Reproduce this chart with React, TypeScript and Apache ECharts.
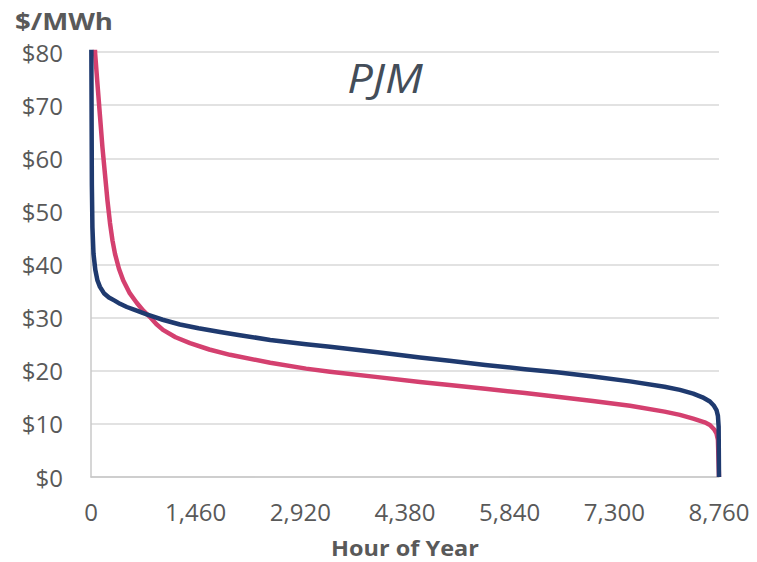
import React, { useEffect, useRef } from "react";
import * as echarts from "echarts";

const xTicks = [0, 1460, 2920, 4380, 5840, 7300, 8760];
const yTicks = [0, 10, 20, 30, 40, 50, 60, 70, 80];

const navyHours = [0, 5, 12, 20, 35, 60, 90, 125, 180, 250, 330, 405, 500, 600, 777, 1000, 1241, 1500, 1800, 2078, 2500, 3000, 3334, 4000, 4589, 5000, 5500, 6054, 6500, 7000, 7519, 8000, 8215, 8400, 8530, 8633, 8690, 8725, 8745, 8755, 8760];
const navyPrices = [120, 80, 55, 47, 42, 39, 37, 35.8, 34.6, 33.8, 33.2, 32.6, 32, 31.5, 30.6, 29.6, 28.7, 28, 27.3, 26.7, 25.8, 25.0, 24.5, 23.5, 22.5, 21.9, 21.1, 20.3, 19.7, 18.9, 18.0, 17.0, 16.4, 15.7, 15.0, 14.2, 13.4, 12.6, 11.5, 9.5, 0];

const pinkHours = [0, 30, 56, 90, 125, 160, 195, 230, 265, 300, 335, 390, 450, 540, 637, 730, 823, 910, 1004, 1180, 1381, 1650, 1939, 2500, 3000, 3334, 4000, 4589, 5000, 5500, 6054, 6500, 7000, 7519, 8000, 8215, 8400, 8560, 8633, 8690, 8725, 8745, 8760];
const pinkPrices = [130, 95, 80, 74, 68, 62, 57, 52, 47.8, 44.5, 42, 39.2, 37, 34.6, 32.8, 31.3, 30.1, 28.8, 27.7, 26.3, 25.2, 24, 23.0, 21.5, 20.4, 19.8, 18.8, 17.9, 17.3, 16.6, 15.8, 15.1, 14.3, 13.4, 12.3, 11.7, 11.0, 10.3, 9.8, 9.0, 8.2, 7.0, 0];

const navyColor = "#1f3a6f";
const pinkColor = "#d4406f";

export default function App() {
  const ref = useRef<HTMLDivElement>(null);
  useEffect(() => {
    if (!ref.current) return;
    const chart = echarts.init(ref.current, undefined, { renderer: "svg" });
    const font = "'Open Sans', sans-serif";
    chart.setOption({
      animation: false,
      backgroundColor: "#ffffff",
      grid: { left: 91, right: 38, top: 52, bottom: 85, containLabel: false },
      xAxis: {
        type: "value",
        min: 0,
        max: 8760,
        interval: 1460,
        axisLine: { show: true, lineStyle: { color: "#c8c8c8", width: 1.5 } },
        axisTick: { show: false },
        splitLine: { show: false },
        axisLabel: {
          color: "#595959",
          fontFamily: font,
          fontSize: 24,
          margin: 22,
          formatter: (v: number) => v.toLocaleString("en-US"),
        },
      },
      yAxis: {
        type: "value",
        min: 0,
        max: 80,
        interval: 10,
        axisLine: { show: true, lineStyle: { color: "#c8c8c8", width: 1.5 } },
        axisTick: { show: false },
        splitLine: { show: true, lineStyle: { color: "#d9d9d9", width: 1.5 } },
        axisLabel: {
          color: "#595959",
          fontFamily: font,
          fontSize: 24,
          margin: 28,
          formatter: (v: number) => "$" + v,
        },
      },
      graphic: [
        {
          type: "text",
          x: 15,
          y: 21,
          scaleX: 1.2,
          style: {
            text: "$/MWh",
            fill: "#595959",
            font: `bold 23px ${font}`,
            textVerticalAlign: "middle",
          },
        },
        {
          type: "text",
          x: 405,
          y: 548,
          scaleX: 1.12,
          style: {
            text: "Hour of Year",
            fill: "#595959",
            font: `bold 21px ${font}`,
            textAlign: "center",
            textVerticalAlign: "middle",
          },
        },
        {
          type: "text",
          x: 385,
          y: 78,
          scaleX: 1.13,
          style: {
            text: "PJM",
            fill: "#434d59",
            font: `italic 40px ${font}`,
            textAlign: "center",
            textVerticalAlign: "middle",
          },
        },
      ],
      series: [
        {
          type: "line",
          data: pinkHours.map((h, i) => [h, pinkPrices[i]]),
          showSymbol: false,
          smooth: false,
          clip: true,
          lineStyle: { color: pinkColor, width: 4.5, join: "round" },
          itemStyle: { color: pinkColor },
        },
        {
          type: "line",
          data: navyHours.map((h, i) => [h, navyPrices[i]]),
          showSymbol: false,
          smooth: false,
          clip: true,
          lineStyle: { color: navyColor, width: 4.5, join: "round" },
          itemStyle: { color: navyColor },
        },
      ],
    });
    return () => chart.dispose();
  }, []);
  return (
    <div
      ref={ref}
      style={{ position: "fixed", left: 0, top: 0, width: 757, height: 562 }}
    />
  );
}
